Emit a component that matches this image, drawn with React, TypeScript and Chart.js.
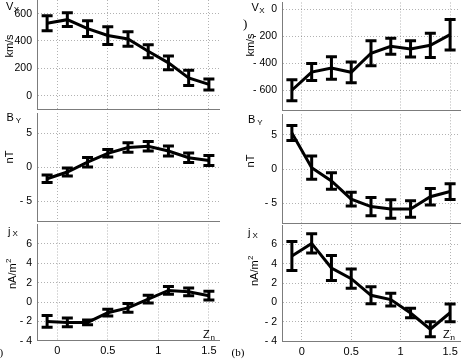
import { useEffect, useRef } from 'react';
import { Chart, registerables } from 'chart.js';

Chart.register(...registerables);

// Normalised height bins shared by every panel
const zn = [-0.1, 0.1, 0.3, 0.5, 0.7, 0.9, 1.1, 1.3, 1.5];
const znTicks = [0, 0.5, 1, 1.5];

// Case (a)
const vxA = [530, 556, 490, 440, 415, 325, 240, 130, 82];
const vxAErr = [55, 50, 58, 65, 53, 48, 50, 55, 40];
const byA = [-1.7, -0.7, 0.75, 2.05, 2.9, 3.1, 2.4, 1.4, 1.0];
const byAErr = [0.55, 0.6, 0.7, 0.55, 0.7, 0.7, 0.75, 0.7, 0.75];
const jxA = [-2.0, -2.1, -2.1, -1.1, -0.6, 0.3, 1.2, 1.05, 0.65];
const jxAErr = [0.6, 0.45, 0.25, 0.35, 0.45, 0.4, 0.4, 0.4, 0.45];

// Case (b)
const vxB = [-600, -465, -435, -467, -326, -274, -294, -267, -188];
const vxBErr = [78, 63, 84, 77, 93, 60, 60, 90, 113];
const byB = [5.25, 0.2, -1.75, -4.4, -5.5, -5.85, -5.85, -4.05, -3.3];
const byBErr = [1.1, 1.7, 1.2, 1.0, 1.35, 1.35, 1.2, 1.2, 1.15];
const jxB = [4.8, 6.1, 3.55, 2.45, 0.73, 0.28, -1.1, -2.78, -1.08];
const jxBErr = [1.5, 1.0, 1.3, 1.0, 0.87, 0.65, 0.5, 0.78, 0.92];

// Tick labels
const vxTicksA = [0, 200, 400, 600];
const vxTicksB = [-600, -400, -200, 0];
const byTicks = [-5, 0, 5];
const jxTicks = [-4, -2, 0, 2, 4, 6];

const W = 463;
const H = 361;
const OFF = 30; // canvas overhang above and below the page
const CH = H + 2 * OFF;
const AXW = 30;
const AXH = 20;

const SANS = "'Liberation Sans', Arial, Helvetica, sans-serif";
const SERIF = "'Liberation Serif', 'Times New Roman', serif";
const GRID = 'rgba(0,0,0,0.3)';
const AXIS = '#7c7c7c';

type Sym = { main: string; sub: string; x: number; y: number; gap: number; dy: number };
type Unit = { text: string; sup?: string; x: number; y: number };

interface PanelSpec {
  key: string;
  values: number[];
  errors: number[];
  yMin: number;
  yMax: number;
  yTicks: number[];
  rect: { left: number; right: number; top: number; bottom: number };
  showX: boolean;
  sym: Sym;
  unit: Unit;
  extra?: { text: string; x: number; y: number; font: string }[];
}

const panels: PanelSpec[] = [
  {
    key: 'a-vx', values: vxA, errors: vxAErr, yMin: -100, yMax: 700, yTicks: vxTicksA,
    rect: { left: 37, right: 219, top: 0, bottom: 109.3 }, showX: false,
    sym: { main: 'V', sub: 'X', x: 6, y: 9.5, gap: 0.5, dy: 2.5 },
    unit: { text: 'km/s', x: 13, y: 46 },
  },
  {
    key: 'a-by', values: byA, errors: byAErr, yMin: -8, yMax: 8, yTicks: byTicks,
    rect: { left: 37, right: 219, top: 113, bottom: 221.5 }, showX: false,
    sym: { main: 'B', sub: 'Y', x: 6.5, y: 120.5, gap: 2, dy: 2 },
    unit: { text: 'nT', x: 13, y: 157 },
  },
  {
    key: 'a-jx', values: jxA, errors: jxAErr, yMin: -4, yMax: 8, yTicks: jxTicks,
    rect: { left: 37, right: 219, top: 224.5, bottom: 340.8 }, showX: true,
    sym: { main: 'j', sub: 'X', x: 8, y: 234.5, gap: 2, dy: 1.5 },
    unit: { text: 'nA/m', sup: '2', x: 16, y: 274 },
    extra: [
      { text: 'Z', x: 203, y: 337.5, font: `11px ${SANS}` },
      { text: 'n', x: 210.5, y: 339.5, font: `8px ${SANS}` },
      { text: '(a)', x: -9, y: 356, font: `11px ${SERIF}` },
    ],
  },
  {
    key: 'b-vx', values: vxB, errors: vxBErr, yMin: -750, yMax: 50, yTicks: vxTicksB,
    rect: { left: 282, right: 460, top: 2.5, bottom: 110.5 }, showX: false,
    sym: { main: 'V', sub: 'X', x: 251.5, y: 10.5, gap: 0.5, dy: 2.5 },
    unit: { text: 'km/s', x: 253.5, y: 45 },
    extra: [{ text: ')', x: 243, y: 28, font: `13px ${SERIF}` }],
  },
  {
    key: 'b-by', values: byB, errors: byBErr, yMin: -8, yMax: 8, yTicks: byTicks,
    rect: { left: 282, right: 460, top: 114.3, bottom: 223.7 }, showX: false,
    sym: { main: 'B', sub: 'Y', x: 248, y: 122.5, gap: 2, dy: 2 },
    unit: { text: 'nT', x: 254, y: 161 },
  },
  {
    key: 'b-jx', values: jxB, errors: jxBErr, yMin: -4, yMax: 8, yTicks: jxTicks,
    rect: { left: 282, right: 460, top: 225, bottom: 341 }, showX: true,
    sym: { main: 'j', sub: 'X', x: 248, y: 236, gap: 2, dy: 1.5 },
    unit: { text: 'nA/m', sup: '2', x: 258.3, y: 271 },
    extra: [
      { text: 'Z', x: 443, y: 337.5, font: `11px ${SANS}` },
      { text: 'n', x: 450.5, y: 339.5, font: `8px ${SANS}` },
      { text: '(b)', x: 231.5, y: 356, font: `11px ${SERIF}` },
    ],
  },
];

const fmtY = (v: number) => (v < 0 ? `- ${Math.abs(v)}` : String(v));

function makeConfig(spec: PanelSpec): any {
  const { rect } = spec;

  // Error bars with caps, drawn through the panel's own scales
  const errorBars = {
    id: 'errorBars',
    afterDatasetsDraw(chart: any) {
      const { ctx, scales } = chart;
      const xs = scales.x;
      const ys = scales.y;
      const cap = 5.5;
      ctx.save();
      ctx.strokeStyle = '#000';
      ctx.lineWidth = 3;
      spec.values.forEach((v, i) => {
        const e = spec.errors[i];
        const px = xs.getPixelForValue(zn[i]);
        const yt = ys.getPixelForValue(v + e);
        const yb = ys.getPixelForValue(v - e);
        ctx.beginPath();
        ctx.moveTo(px, yt);
        ctx.lineTo(px, yb);
        ctx.moveTo(px - cap, yt);
        ctx.lineTo(px + cap, yt);
        ctx.moveTo(px - cap, yb);
        ctx.lineTo(px + cap, yb);
        ctx.stroke();
      });
      ctx.restore();
    },
  };

  // Quantity symbol, unit and panel annotations
  const annotations = {
    id: 'annotations',
    afterDraw(chart: any) {
      const ctx: CanvasRenderingContext2D = chart.ctx;
      ctx.save();
      ctx.fillStyle = '#000';
      ctx.textBaseline = 'alphabetic';
      ctx.textAlign = 'left';

      const s = spec.sym;
      ctx.font = `11px ${SANS}`;
      ctx.fillText(s.main, s.x, s.y + OFF);
      const mw = ctx.measureText(s.main).width;
      ctx.font = `8px ${SANS}`;
      ctx.fillText(s.sub, s.x + mw + s.gap, s.y + s.dy + OFF);

      const u = spec.unit;
      ctx.save();
      ctx.translate(u.x, u.y + OFF);
      ctx.rotate(-Math.PI / 2);
      ctx.font = `11px ${SANS}`;
      const uw = ctx.measureText(u.text).width;
      let sw = 0;
      if (u.sup) {
        ctx.font = `8px ${SANS}`;
        sw = ctx.measureText(u.sup).width;
      }
      const start = -(uw + sw) / 2;
      ctx.font = `11px ${SANS}`;
      ctx.fillText(u.text, start, 0);
      if (u.sup) {
        ctx.font = `8px ${SANS}`;
        ctx.fillText(u.sup, start + uw + 0.5, -5);
      }
      ctx.restore();

      (spec.extra || []).forEach((t) => {
        ctx.font = t.font;
        ctx.fillText(t.text, t.x, t.y + OFF);
      });
      ctx.restore();
    },
  };

  return {
    type: 'line',
    data: {
      datasets: [
        {
          data: zn.map((z, i) => ({ x: z, y: spec.values[i] })),
          borderColor: '#000',
          borderWidth: 3,
          pointRadius: 0,
          tension: 0,
          fill: false,
        },
      ],
    },
    options: {
      animation: false,
      responsive: false,
      events: [],
      layout: {
        padding: {
          left: rect.left - AXW,
          right: W - rect.right,
          top: rect.top + OFF,
          bottom: CH - (rect.bottom + OFF) - AXH,
        },
      },
      plugins: { legend: { display: false }, tooltip: { enabled: false } },
      scales: {
        x: {
          type: 'linear',
          min: -0.2,
          max: 1.6,
          afterBuildTicks: (s: any) => {
            s.ticks = znTicks.map((v) => ({ value: v }));
          },
          afterFit: (s: any) => {
            s.height = AXH;
          },
          grid: { color: GRID, lineWidth: 1, drawTicks: false },
          border: { display: true, color: AXIS, width: 1, dash: [1, 2] },
          ticks: {
            display: spec.showX,
            padding: 4,
            color: '#000',
            font: { family: SANS, size: 11 },
            maxRotation: 0,
            callback: (v: number) => String(v),
          },
        },
        y: {
          type: 'linear',
          min: spec.yMin,
          max: spec.yMax,
          afterBuildTicks: (s: any) => {
            s.ticks = spec.yTicks.map((v) => ({ value: v }));
          },
          afterFit: (s: any) => {
            s.width = AXW;
          },
          grid: { color: GRID, lineWidth: 1, drawTicks: false },
          border: { display: true, color: AXIS, width: 1, dash: [1, 2] },
          ticks: {
            padding: 5,
            color: '#000',
            font: { family: SANS, size: 10.5 },
            callback: (v: number) => fmtY(v),
          },
        },
      },
    },
    plugins: [errorBars, annotations],
  };
}

function Panel({ spec }: { spec: PanelSpec }) {
  const ref = useRef<HTMLCanvasElement>(null);
  useEffect(() => {
    const chart = new Chart(ref.current as HTMLCanvasElement, makeConfig(spec));
    return () => chart.destroy();
  }, [spec]);
  return (
    <canvas
      ref={ref}
      width={W}
      height={CH}
      style={{ position: 'absolute', left: 0, top: -OFF, width: W, height: CH }}
    />
  );
}

export default function App() {
  return (
    <div
      style={{
        position: 'absolute',
        left: 0,
        top: 0,
        width: W,
        height: H,
        overflow: 'hidden',
        background: '#fff',
      }}
    >
      {panels.map((p) => (
        <Panel key={p.key} spec={p} />
      ))}
    </div>
  );
}
